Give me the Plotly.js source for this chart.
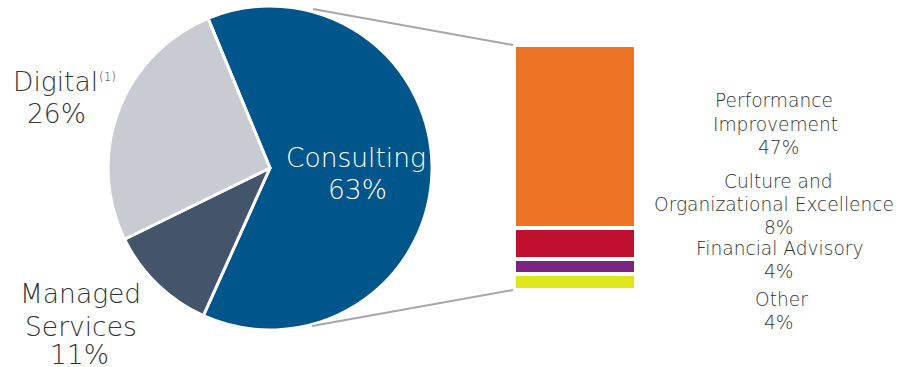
<!DOCTYPE html>
<html>
<head>
<meta charset="utf-8">
<script src="https://cdn.plot.ly/plotly-3.0.1.min.js"></script>
<style>html,body{margin:0;padding:0;background:#fff;}#chart{width:916px;height:367px;}</style>
</head>
<body>
<div id="chart"></div>
<script>
// Pie data
const pieLabels = ["Consulting", "Managed Services", "Digital"];
const pieValues = [63, 11, 26];
const pieColors = ["#00558b", "#44546b", "#c8ccd2"];
const digitalNote = "(1)";

// Consulting breakdown (bottom to top)
const subLabels = ["Other", "Financial Advisory", "Culture and Organizational Excellence", "Performance Improvement"];
const subValues = [4, 4, 8, 47];
const subColors = ["#dfe61c", "#7b2481", "#c1102f", "#ec7424"];

const W = 916, H = 367;
const FONT = "DejaVu Sans, sans-serif";
const TXT = "#333333";

const traces = [{
  type: "pie",
  labels: pieLabels,
  values: pieValues,
  sort: false,
  direction: "clockwise",
  rotation: -22.5,
  textinfo: "none",
  hoverinfo: "none",
  marker: {colors: pieColors, line: {color: "#ffffff", width: 3}},
  domain: {x: [108/W, 432/W], y: [1 - 330/H, 1 - 6/H]},
  showlegend: false
}];

subLabels.forEach((lab, i) => {
  traces.push({
    type: "bar",
    x: [0],
    y: [subValues[i]],
    name: lab,
    width: 1,
    marker: {color: subColors[i], line: {color: "#ffffff", width: 4}},
    xaxis: "x", yaxis: "y",
    hoverinfo: "none",
    showlegend: false
  });
});

const total = subValues.reduce((a, b) => a + b, 0);
const BIG = 26.5, SMALL = 18.6, WT = 300;

const annotations = [];
function addLines(texts, xs, ys, size, color) {
  texts.forEach((t, i) => {
    annotations.push({
      xref: "paper", yref: "paper", showarrow: false,
      xanchor: "center", yanchor: "middle", align: "center", borderpad: 0,
      x: (Array.isArray(xs) ? xs[i] : xs) / W, y: 1 - ys[i] / H,
      text: t, font: {size: size, color: color, weight: WT}
    });
  });
}

addLines([pieLabels[0], pieValues[0] + "%"], [356, 357], [158, 189], BIG, "#ffffff");
addLines([pieLabels[2], pieValues[2] + "%"], [55, 56], [82, 114], BIG, TXT);
addLines([digitalNote], [107], [77], 12, TXT);
addLines(["Managed", "Services", pieValues[1] + "%"], [80, 81, 79], [293, 326, 354], BIG, TXT);
addLines(["Performance", "Improvement", subValues[3] + "%"], [774, 775, 778], [101, 124, 147], SMALL, TXT);
addLines(["Culture and", "Organizational Excellence", subValues[2] + "%"], [778, 774, 779], [181, 204, 227], SMALL, TXT);
addLines([subLabels[1], subValues[1] + "%"], [779, 779], [248, 271], SMALL, TXT);
addLines([subLabels[0], subValues[0] + "%"], [781, 779], [299, 322], SMALL, TXT);

const layout = {
  width: W, height: H,
  margin: {l: 0, r: 0, t: 0, b: 0},
  paper_bgcolor: "#ffffff", plot_bgcolor: "#ffffff",
  font: {family: FONT, color: TXT},
  barmode: "stack",
  xaxis: {domain: [514/W, 636/W], range: [-0.5, 0.5], visible: false, fixedrange: true},
  yaxis: {domain: [1 - 290/H, 1 - 45/H], range: [0, total], visible: false, fixedrange: true},
  shapes: [
    {type: "line", xref: "paper", yref: "paper", x0: 313/W, y0: 1 - 9/H, x1: 513/W, y1: 1 - 45/H, line: {color: "#a6a6a6", width: 2}},
    {type: "line", xref: "paper", yref: "paper", x0: 312/W, y0: 1 - 326/H, x1: 513/W, y1: 1 - 290/H, line: {color: "#a6a6a6", width: 2}}
  ],
  annotations: annotations
};

Plotly.newPlot("chart", traces, layout, {displayModeBar: false, staticPlot: true});
</script>
</body>
</html>
